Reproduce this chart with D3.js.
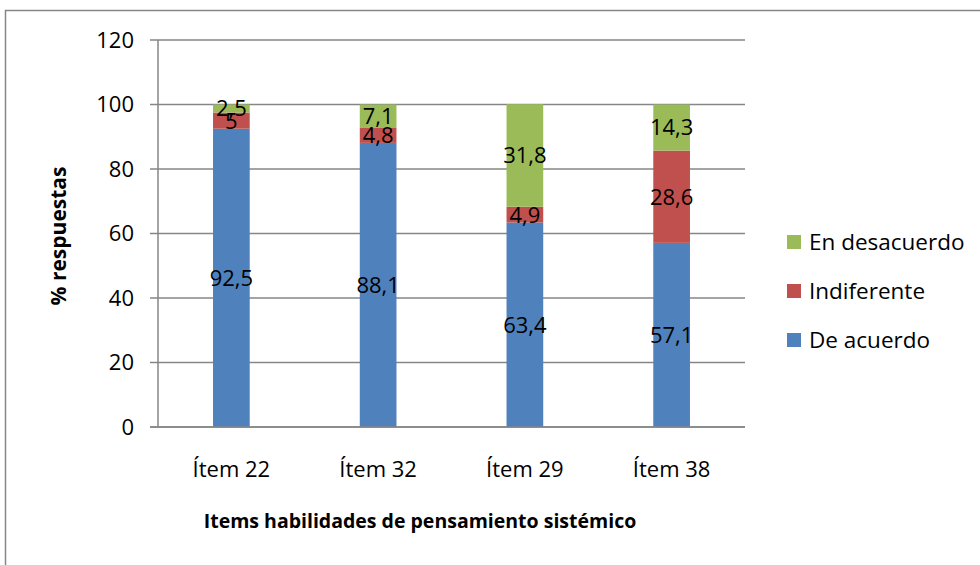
<!DOCTYPE html>
<html>
<head>
<meta charset="utf-8">
<script src="https://cdn.jsdelivr.net/npm/d3@7"></script>
<style>
body{margin:0;background:#fff;}
text{font-family:"Open Sans",sans-serif;fill:#000;}
</style>
</head>
<body>
<script>
var categories = ["Ítem 22","Ítem 32","Ítem 29","Ítem 38"];
var deAcuerdo = [92.5, 88.1, 63.4, 57.1];
var indiferente = [5, 4.8, 4.9, 28.6];
var enDesacuerdo = [2.5, 7.1, 31.8, 14.3];
var seriesNames = ["De acuerdo","Indiferente","En desacuerdo"];
var colors = ["#4F81BD","#C0504D","#9BBB59"];
var yTicks = [0,20,40,60,80,100,120];

var width = 980, height = 565;
var plotLeft = 158, plotRight = 745, plotTop = 40, plotBottom = 427;

var rows = categories.map(function(c,i){
    return {cat:c, "De acuerdo":deAcuerdo[i], "Indiferente":indiferente[i], "En desacuerdo":enDesacuerdo[i]};
});
var stacked = d3.stack().keys(seriesNames)(rows);

var svg = d3.select("body").append("svg")
    .attr("width",width)
    .attr("height",height);

// chart border (runs off right and bottom)
svg.append("rect")
    .attr("x",5.5).attr("y",10.5)
    .attr("width",1000).attr("height",600)
    .attr("fill","none").attr("stroke","#868686").attr("stroke-width",1.5);

var x = d3.scaleBand().domain(categories).range([plotLeft,plotRight]).paddingInner(0.75).paddingOuter(0.375);
var y = d3.scaleLinear().domain([0,120]).range([plotBottom,plotTop]);

// grid
svg.append("g").selectAll("line")
    .data(yTicks).enter()
    .append("line")
    .attr("x1",plotLeft-8).attr("x2",plotRight)
    .attr("y1",function(d){return y(d);}).attr("y2",function(d){return y(d);})
    .attr("stroke","#868686").attr("stroke-width",1.5);

// bars
var layer = svg.append("g").selectAll("g")
    .data(stacked).enter()
    .append("g")
    .attr("fill",function(d,i){return colors[i];});

layer.selectAll("rect")
    .data(function(d){return d;}).enter()
    .append("rect")
    .attr("x",function(d){return x(d.data.cat);})
    .attr("width",x.bandwidth())
    .attr("y",function(d){return y(d[1]);})
    .attr("height",function(d){return y(d[0])-y(d[1]);});

// axis lines
svg.append("line").attr("x1",plotLeft).attr("x2",plotLeft).attr("y1",plotTop).attr("y2",plotBottom)
    .attr("stroke","#868686").attr("stroke-width",1.5);
svg.append("line").attr("x1",plotLeft-8).attr("x2",plotRight).attr("y1",plotBottom).attr("y2",plotBottom)
    .attr("stroke","#868686").attr("stroke-width",1.5);

// value labels
var labels = svg.append("g").selectAll("g")
    .data(stacked).enter()
    .append("g");
labels.selectAll("text")
    .data(function(d){return d;}).enter()
    .append("text")
    .attr("x",function(d){return x(d.data.cat)+x.bandwidth()/2;})
    .attr("y",function(d){return (y(d[0])+y(d[1]))/2;})
    .attr("dy","0.36em")
    .attr("text-anchor","middle")
    .style("font-size","22px")
    .text(function(d){return String(+(d[1]-d[0]).toFixed(1)).replace(".",",");});

// y tick labels
svg.append("g").selectAll("text")
    .data(yTicks).enter()
    .append("text")
    .attr("x",plotLeft-24)
    .attr("y",function(d){return y(d);})
    .attr("dy","0.36em")
    .attr("text-anchor","end")
    .style("font-size","22px")
    .text(function(d){return d;});

// x tick labels
svg.append("g").selectAll("text")
    .data(categories).enter()
    .append("text")
    .attr("x",function(d){return x(d)+x.bandwidth()/2;})
    .attr("y",477)
    .attr("text-anchor","middle")
    .style("font-size","22px")
    .text(function(d){return d;});

// axis titles
svg.append("text")
    .attr("transform","translate(66,236) rotate(-90)")
    .attr("text-anchor","middle")
    .style("font-size","21px").style("font-weight","bold")
    .text("% respuestas");
svg.append("text")
    .attr("x",420).attr("y",528)
    .attr("text-anchor","middle")
    .style("font-size","19.5px").style("font-weight","bold")
    .text("Items habilidades de pensamiento sistémico");

// legend
var legendOrder = [2,1,0];
var legend = svg.append("g").selectAll("g")
    .data(legendOrder).enter()
    .append("g")
    .attr("transform",function(d,i){return "translate(787,"+(242+i*49)+")";});
legend.append("rect")
    .attr("x",0).attr("y",-7).attr("width",14).attr("height",14)
    .attr("fill",function(d){return colors[d];});
legend.append("text")
    .attr("x",22).attr("y",0).attr("dy","0.36em")
    .style("font-size","22.5px")
    .text(function(d){return seriesNames[d];});
</script>
</body>
</html>
